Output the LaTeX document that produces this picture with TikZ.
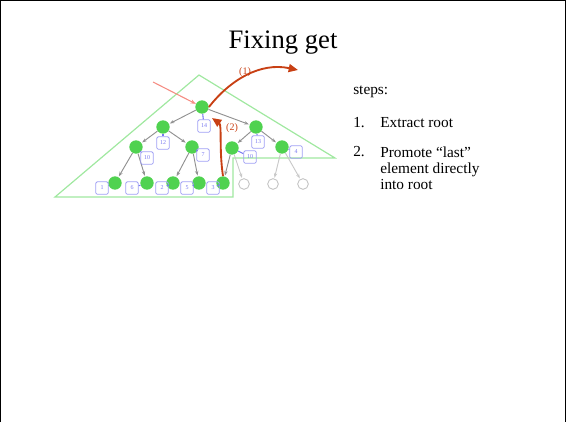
\documentclass[tikz,border=0pt]{standalone}
\usepackage{fontspec}
\setmainfont{Liberation Serif}
\usetikzlibrary{arrows.meta}
\definecolor{heapgreen}{RGB}{80,210,80}
\definecolor{outline}{RGB}{160,232,160}
\definecolor{boxblue}{RGB}{120,120,240}
\definecolor{edgegray}{RGB}{145,145,145}
\definecolor{fixred}{RGB}{200,64,20}
\definecolor{pointer}{RGB}{245,140,130}
\tikzset{
  heapnode/.style={circle, fill=heapgreen, inner sep=0pt, minimum size=10},
  emptynode/.style={circle, draw=edgegray!60, inner sep=0pt, minimum size=8, line width=0.6},
  keybox/.style={draw=boxblue!70, rounded corners=1.2, inner sep=0pt, minimum size=9.5,
    text=boxblue, font=\fontsize{4.5}{5}\selectfont, line width=0.6},
  keylink/.style={boxblue, line width=0.8},
  treeedge/.style={edgegray, line width=0.7, -{Stealth[length=3.5pt,width=2.5pt]}, shorten >=0.5},
  fixarrow/.style={fixred, line width=1.4, -{Triangle[length=7pt,width=6pt]}},
  fixlabel/.style={text=fixred, font=\fontsize{7.5}{8}\selectfont},
  bodytext/.style={anchor=base west, font=\fontsize{11.5}{12}\selectfont, inner sep=0pt}
}
\begin{document}
\begin{tikzpicture}[x=0.75pt, y=-0.75pt]
\useasboundingbox (0,0) rectangle (566,422);
% slide frame
\draw[black, line width=1] (0.5,422) -- (0.5,0.5) -- (565.5,0.5) -- (565.5,422);

% title
\node[anchor=base, font=\fontsize{20}{24}\selectfont, inner sep=0pt] (title) at (283,48) {Fixing get};

% region of the heap that remains valid
\draw[outline, line width=0.9] (199,75) -- (335,158) -- (233,158) -- (233,197) -- (55,197) -- cycle;

% heap nodes
\node[heapnode] (r)  at (202,107) {};
\node[heapnode] (a)  at (163,127) {};
\node[heapnode] (b)  at (256,127) {};
\node[heapnode] (aa) at (136,147) {};
\node[heapnode] (ab) at (192,147) {};
\node[heapnode] (ba) at (232,148) {};
\node[heapnode] (bb) at (282,147) {};
\node[heapnode] (l1) at (115,183) {};
\node[heapnode] (l2) at (147,183) {};
\node[heapnode] (l3) at (173,183) {};
\node[heapnode] (l4) at (199,183) {};
\node[heapnode] (l5) at (223,183) {};
\node[emptynode] (e1) at (244,184) {};
\node[emptynode] (e2) at (273,184) {};
\node[emptynode] (e3) at (303,184) {};

% tree edges
\foreach \p/\c in {r/a, r/b, a/aa, a/ab, b/ba, b/bb, aa/l1, aa/l2, ab/l3, ab/l4, ba/l5}
  \draw[treeedge] (\p) -- (\c);
\foreach \p/\c in {ba/e1, bb/e2, bb/e3}
  \draw[treeedge, edgegray!50] (\p) -- (\c);

% keys stored at the nodes
\foreach \n/\x/\y/\k in {r/204/126/14, a/163/143/12, b/258/142/13,
    aa/147/158/10, ab/203/155/7, ba/250/157/10, bb/296/152/4,
    l1/102/188/1, l2/132/188/6, l3/162/188/2, l4/187/188/5, l5/213/188/3} {
  \node[keybox] (k\n) at (\x,\y) {\k};
  \draw[keylink] (k\n) -- (\n);
}

% pointer to the root
\coordinate (ptr) at (153,82);
\draw[pointer, line width=0.8, -{Stealth[length=4pt,width=3pt]}] (ptr) -- (r);

% step (1): extract root
\coordinate (out) at (298,70);
\draw[fixarrow] (r.east) .. controls (230,80) and (260,62) .. (out);
\node[fixlabel] (s1) at (245,72) {(1)};

% step (2): promote last element
\coordinate (top2) at (212,118);
\draw[fixarrow] (l5.north) .. controls (219,150) and (222,125) .. (top2);
\node[fixlabel] (s2) at (232,128) {(2)};

% steps list
\node[bodytext] (h) at (353,94) {steps:};
\node[bodytext] (n1) at (353,127) {1.};
\node[bodytext] (t1) at (380,127) {Extract root};
\node[bodytext] (n2) at (353,156) {2.};
\node[bodytext, align=left, anchor=north west] (t2) at (380,147)
  {Promote \textquotedblleft last\textquotedblright\\element directly\\into root};
\end{tikzpicture}
\end{document}
